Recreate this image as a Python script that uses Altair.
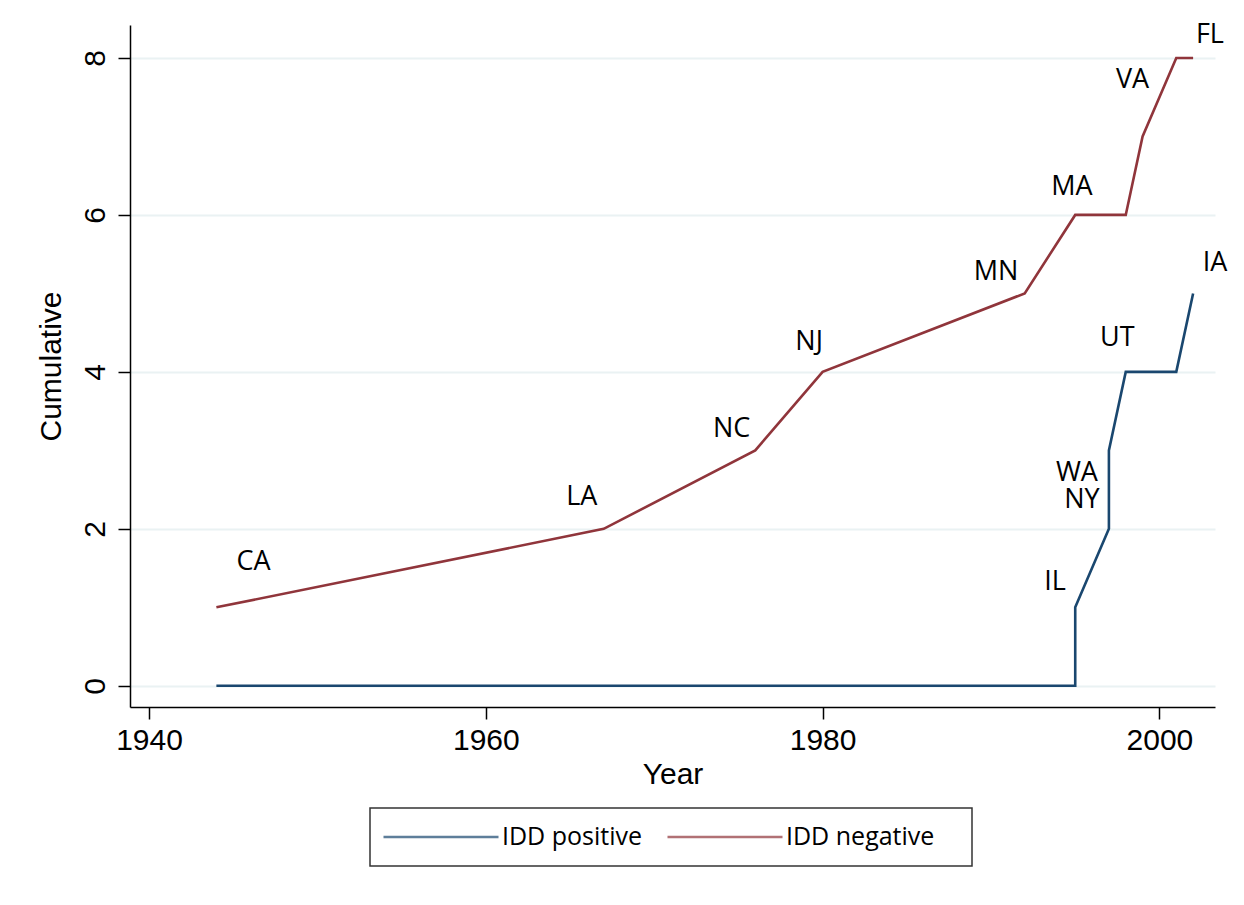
import altair as alt
import pandas as pd

# Data
years = [1944, 1967, 1976, 1980, 1992, 1995, 1995, 1997, 1997, 1998, 1999, 2001, 2002]
idd_positive = [0, 0, 0, 0, 0, 0, 1, 2, 3, 4, 4, 4, 5]
idd_negative = [1, 2, 3, 4, 5, 6, 6, 6, 6, 6, 7, 8, 8]
series_names = ["IDD positive", "IDD negative"]
series_colors = ["#1a476f", "#90353b"]

label_text = ["CA", "LA", "NC", "NJ", "MN", "MA", "VA", "FL", "IA", "UT", "WA", "NY", "IL"]
label_year = [1946.2, 1965.7, 1974.6, 1979.2, 1990.3, 1994.8, 1998.4, 2003.0, 2003.3, 1997.5, 1995.1, 1995.4, 1993.8]
label_value = [1.58, 2.41, 3.27, 4.38, 5.27, 6.36, 7.72, 8.29, 5.39, 4.43, 2.71, 2.37, 1.32]

x_ticks = [1940, 1960, 1980, 2000]
y_ticks = [0, 2, 4, 6, 8]

rows = []
for i, (yr, p, n) in enumerate(zip(years, idd_positive, idd_negative)):
    rows.append({"Year": yr, "Cumulative": p, "series": series_names[0], "idx": i})
    rows.append({"Year": yr, "Cumulative": n, "series": series_names[1], "idx": i})
df = pd.DataFrame(rows)
labels = pd.DataFrame({"text": label_text, "Year": label_year, "Cumulative": label_value})
legend_df = pd.DataFrame({"series": series_names})
box_df = pd.DataFrame({"box": [1]})

xscale = alt.Scale(domain=[1938.87, 2003.3], nice=False, zero=False)
yscale = alt.Scale(domain=[-0.27, 8.42], nice=False, zero=False)
cscale = alt.Scale(domain=series_names, range=series_colors)

lines = alt.Chart(df).mark_line(strokeWidth=2.6, clip=False).encode(
    x=alt.X("Year:Q", scale=xscale,
            axis=alt.Axis(values=x_ticks, format="d", title="Year", grid=False,
                          tickSize=12, labelPadding=6, titlePadding=4)),
    y=alt.Y("Cumulative:Q", scale=yscale,
            axis=alt.Axis(values=y_ticks, format="d", title="Cumulative", grid=True,
                          tickSize=12, labelAngle=270, labelPadding=8, titlePadding=14)),
    color=alt.Color("series:N", scale=cscale, legend=None),
    order="idx:Q",
)

text = alt.Chart(labels).mark_text(font="Open Sans", fontSize=27, color="#000000",
                                   align="center", baseline="middle", clip=False).encode(
    x=alt.X("Year:Q", scale=xscale),
    y=alt.Y("Cumulative:Q", scale=yscale),
    text="text:N",
)

main = alt.layer(lines, text)

# Legend drawn below the plot (box, line samples, labels)
lscale = alt.Scale(type="point", domain=series_names, range=[311, 595], padding=0)
box = alt.Chart(box_df).mark_rect(fill="#ffffff", stroke="#333333", strokeWidth=1.5).encode(
    x=alt.value(240), x2=alt.value(842), y=alt.value(783), y2=alt.value(841)
)
sym = alt.Chart(legend_df).mark_tick(orient="horizontal", size=115, thickness=2.5).encode(
    x=alt.X("series:N", scale=lscale, axis=None),
    y=alt.value(812),
    color=alt.Color("series:N", scale=cscale, legend=None),
)
ltext = alt.Chart(legend_df).mark_text(font="Open Sans", fontSize=25, color="#000000",
                                       align="left", baseline="middle", dx=61).encode(
    x=alt.X("series:N", scale=lscale, axis=None),
    y=alt.value(812),
    text="series:N",
)
legend = alt.layer(box, sym, ltext)

chart = alt.layer(main, legend).resolve_scale(x="independent").properties(
    width=1085, height=682,
    autosize=alt.AutoSizeParams(type="none"),
    padding={"left": 122, "top": 17, "right": 20, "bottom": 170},
    background="#ffffff",
).configure_view(stroke=None).configure_axis(
    labelFont="Liberation Sans", titleFont="Liberation Sans",
    labelFontSize=30, titleFontSize=30, titleFontWeight="normal",
    labelColor="#000000", titleColor="#000000",
    domainColor="#000000", tickColor="#000000", domainWidth=1.5, tickWidth=1.5,
    gridColor="#eaf2f3", gridWidth=2,
)

chart.save("out.html", embed_options={"renderer": "svg", "actions": False})
